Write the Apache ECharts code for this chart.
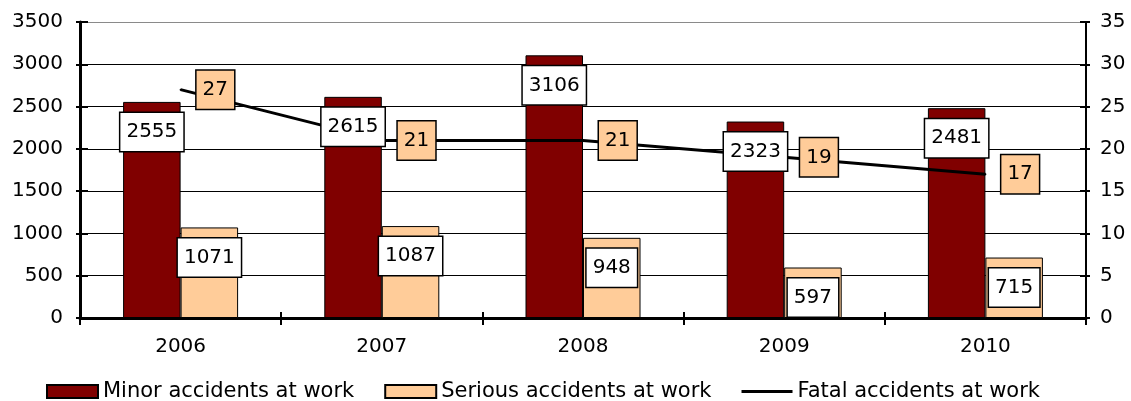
<!DOCTYPE html>
<html>
<head>
<meta charset="utf-8">
<script src="https://cdn.jsdelivr.net/npm/echarts@6/dist/echarts.min.js"></script>
<style>
html,body{margin:0;padding:0;background:#fff;}
#c{width:1131px;height:401px;}
</style>
</head>
<body>
<div id="c"></div>
<script>
const categories = ['2006', '2007', '2008', '2009', '2010'];
const minorAccidents = [2555, 2615, 3106, 2323, 2481];
const seriousAccidents = [1071, 1087, 948, 597, 715];
const fatalAccidents = [27, 21, 21, 19, 17];
const leftAxisMax = 3500, leftAxisStep = 500;
const rightAxisMax = 35, rightAxisStep = 5;
const seriesNames = ['Minor accidents at work', 'Serious accidents at work', 'Fatal accidents at work'];

const FONT = 'DejaVu Sans';
const chart = echarts.init(document.getElementById('c'), null, {renderer: 'canvas'});

const boxLabel = (bg, pos, dist) => ({
  show: true,
  position: pos,
  distance: dist,
  color: '#000',
  fontFamily: FONT,
  fontSize: 20,
  lineHeight: 22,
  backgroundColor: bg,
  borderColor: '#000',
  borderWidth: 1.5,
  padding: [8, 6, 8, 6]
});

const plain = v => String(v);
const gridLineColors = ['#000', '#000', '#000', '#000', '#000', '#000', '#000', '#8a8a8a'];

chart.setOption({
  animation: false,
  textStyle: {fontFamily: FONT},
  grid: {left: 80, right: 45, top: 22, bottom: 83, containLabel: false},
  legend: {
    data: [
      {name: seriesNames[0], icon: 'rect'},
      {name: seriesNames[1], icon: 'rect'},
      {name: seriesNames[2], icon: 'path://M0 0H51V3H0Z'}
    ],
    left: 46,
    top: 381,
    padding: 0,
    itemWidth: 51,
    itemHeight: 13,
    itemGap: 30,
    textStyle: {fontFamily: FONT, fontSize: 21, color: '#000'}
  },
  xAxis: [
    {
      type: 'category',
      data: categories,
      boundaryGap: true,
      axisLine: {show: true, lineStyle: {color: '#000', width: 3}},
      axisTick: {show: true, alignWithLabel: false, length: 7, lineStyle: {color: '#000', width: 2}},
      axisLabel: {color: '#000', fontSize: 20, fontFamily: FONT, margin: 19},
      splitLine: {show: false}
    },
    {
      type: 'category',
      data: categories,
      position: 'bottom',
      boundaryGap: true,
      axisLine: {show: false},
      axisTick: {show: true, inside: true, alignWithLabel: false, length: 6, lineStyle: {color: '#000', width: 2}},
      axisLabel: {show: false},
      splitLine: {show: false}
    }
  ],
  yAxis: [
    {
      type: 'value',
      min: 0, max: leftAxisMax, interval: leftAxisStep,
      position: 'left',
      axisLine: {show: true, lineStyle: {color: '#000', width: 3}},
      axisTick: {show: true, length: 4, lineStyle: {color: '#000', width: 2}},
      axisLabel: {color: '#000', fontSize: 20, fontFamily: FONT, margin: 17, formatter: plain},
      splitLine: {show: true, lineStyle: {color: gridLineColors, width: 1}}
    },
    {
      type: 'value',
      min: 0, max: rightAxisMax, interval: rightAxisStep,
      position: 'right',
      axisLine: {show: true, lineStyle: {color: '#000', width: 2}},
      axisTick: {show: true, length: 4, lineStyle: {color: '#000', width: 2}},
      axisLabel: {color: '#000', fontSize: 20, fontFamily: FONT, margin: 14, formatter: plain},
      splitLine: {show: false}
    },
    {
      type: 'value',
      min: 0, max: leftAxisMax, interval: leftAxisStep,
      position: 'left',
      axisLine: {show: false},
      axisTick: {show: true, inside: true, length: 8, lineStyle: {color: '#000', width: 2}},
      axisLabel: {show: false},
      splitLine: {show: false}
    },
    {
      type: 'value',
      min: 0, max: rightAxisMax, interval: rightAxisStep,
      position: 'right',
      axisLine: {show: false},
      axisTick: {show: true, inside: true, length: 6, lineStyle: {color: '#000', width: 2}},
      axisLabel: {show: false},
      splitLine: {show: false}
    }
  ],
  series: [
    {
      name: seriesNames[0],
      type: 'bar',
      xAxisIndex: 0, yAxisIndex: 0,
      data: minorAccidents,
      barWidth: 57.5,
      barGap: '0%',
      z: 2,
      itemStyle: {color: '#800000', borderColor: '#000', borderWidth: 1}
    },
    {
      name: seriesNames[1],
      type: 'bar',
      xAxisIndex: 0, yAxisIndex: 0,
      data: seriousAccidents,
      barWidth: 57.5,
      barGap: '0%',
      z: 2,
      itemStyle: {color: '#FFCC99', borderColor: '#000', borderWidth: 1}
    },
    {
      name: seriesNames[2],
      type: 'line',
      xAxisIndex: 0, yAxisIndex: 1,
      data: fatalAccidents,
      symbol: 'circle',
      symbolSize: 2,
      z: 3,
      itemStyle: {color: '#000'},
      lineStyle: {color: '#000', width: 3},
      label: boxLabel('#FFCC99', 'right', 15)
    },
    {
      name: 'minorLabels',
      type: 'bar',
      xAxisIndex: 1, yAxisIndex: 0,
      data: minorAccidents,
      barWidth: 57.5,
      barGap: '0%',
      z: 5,
      silent: true,
      itemStyle: {color: 'rgba(0,0,0,0)', borderWidth: 0},
      label: boxLabel('#fff', 'insideTop', 11)
    },
    {
      name: 'seriousLabels',
      type: 'bar',
      xAxisIndex: 1, yAxisIndex: 0,
      data: seriousAccidents,
      barWidth: 57.5,
      barGap: '0%',
      z: 5,
      silent: true,
      itemStyle: {color: 'rgba(0,0,0,0)', borderWidth: 0},
      label: boxLabel('#fff', 'insideTop', 11)
    }
  ]
});
</script>
</body>
</html>
